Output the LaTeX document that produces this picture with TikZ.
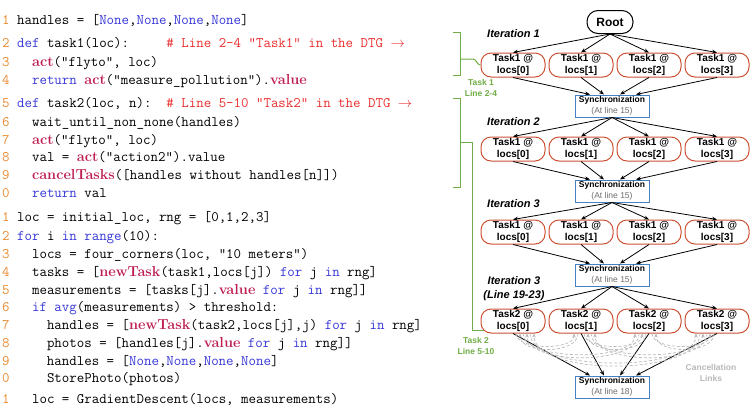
\documentclass[tikz,border=0pt]{standalone}
\usepackage{fontspec}
\setsansfont{Liberation Sans}
\usepackage{tikz}
\usetikzlibrary{arrows.meta}
\definecolor{lnorange}{RGB}{232,137,46}
\definecolor{kwblue}{RGB}{55,55,215}
\definecolor{fncrimson}{RGB}{190,30,80}
\definecolor{cmtred}{RGB}{235,45,45}
\definecolor{taskred}{RGB}{205,80,50}
\definecolor{syncblue}{RGB}{70,130,195}
\definecolor{syncgray}{RGB}{110,110,110}
\definecolor{brgreen}{RGB}{112,173,71}
\definecolor{cancelgray}{RGB}{185,185,185}
\newcommand{\ckw}[1]{\textcolor{kwblue}{#1}}
\newcommand{\cfn}[1]{\textcolor{fncrimson}{\rmfamily\bfseries #1}}
\newcommand{\ccm}[1]{\textcolor{cmtred}{#1}}
\newcommand{\codeline}[4]{%
  \node[codetext] (#1) at (2,#2) {\textcolor{lnorange}{#3}~#4};
}
\newcommand{\taskrow}[3]{%
  \foreach \k/\x in {0/513,1/581,2/649,3/717}{
    \node[task] (#1-\k) at (\x,#2) {#3 @\\locs[\k]};
  }
}
\newcommand{\syncnode}[3]{%
  \node[sync] (#1) at (612,#2) {Synchronization\\{\color{syncgray}\mdseries(At line #3)}};
}

\begin{document}
\begin{tikzpicture}[x=1pt,y=-1pt,
    codetext/.style={anchor=base west,inner sep=0pt,font=\ttfamily\fontsize{14.5}{18}\selectfont},
    rootnode/.style={draw,line width=1pt,rounded corners=11pt,minimum width=46pt,minimum height=23pt,
      inner sep=1pt,font=\sffamily\bfseries\fontsize{12}{14}\selectfont},
    task/.style={draw=taskred,line width=1pt,rounded corners=10pt,minimum width=64pt,minimum height=24pt,
      inner sep=1pt,align=center,font=\sffamily\bfseries\fontsize{10}{11.5}\selectfont},
    sync/.style={draw=syncblue,line width=1pt,minimum width=74pt,minimum height=22pt,
      inner sep=1pt,align=center,font=\sffamily\bfseries\fontsize{8.5}{10.5}\selectfont},
    iter/.style={inner sep=0pt,align=center,font=\sffamily\bfseries\itshape\fontsize{11}{14}\selectfont},
    grnlabel/.style={inner sep=0pt,align=center,text=brgreen,font=\sffamily\bfseries\fontsize{8.5}{11}\selectfont},
    greylabel/.style={inner sep=0pt,align=center,text=cancelgray,font=\sffamily\bfseries\fontsize{8.5}{11}\selectfont},
    flow/.style={line width=0.8pt,-{Stealth[length=5pt,width=4pt]}},
    cancel/.style={draw=cancelgray,line width=0.7pt,dash pattern=on 3pt off 2pt,-{Stealth[length=4pt,width=3.5pt]}},
    brace/.style={draw=brgreen,line width=1pt}]
  \useasboundingbox (0,0) rectangle (756,408);

  % program
  \codeline{c1}{24}{1}{handles = [\ckw{None},\ckw{None},\ckw{None},\ckw{None}]}
  \codeline{c2}{47}{2}{\ckw{def} task1(loc):~~~~~\ccm{\# Line 2-4 "Task1" in the DTG $\rightarrow$}}
  \codeline{c3}{66}{3}{~~\cfn{act}("flyto", loc)}
  \codeline{c4}{84}{4}{~~\ckw{return} \cfn{act}("measure\_pollution").\cfn{value}}
  \codeline{c5}{107}{5}{\ckw{def} task2(loc, n):~~\ccm{\# Line 5-10 "Task2" in the DTG $\rightarrow$}}
  \codeline{c6}{126}{6}{~~wait\_until\_non\_none(handles)}
  \codeline{c7}{144}{7}{~~\cfn{act}("flyto", loc)}
  \codeline{c8}{161}{8}{~~val = \cfn{act}("action2").value}
  \codeline{c9}{179}{9}{~~\cfn{cancelTasks}([handles without handles[n]])}
  \codeline{c10}{197}{0}{~~\ckw{return} val}
  \codeline{c11}{221}{1}{loc = initial\_loc, rng = [0,1,2,3]}
  \codeline{c12}{240}{2}{\ckw{for} i \ckw{in} \ckw{range}(10):}
  \codeline{c13}{258}{3}{~~locs = four\_corners(loc, "10 meters")}
  \codeline{c14}{276}{4}{~~tasks = [\cfn{newTask}(task1,locs[j]) \ckw{for} j \ckw{in} rng]}
  \codeline{c15}{294}{5}{~~measurements = [tasks[j].\cfn{value} \ckw{for} j \ckw{in} rng]]}
  \codeline{c16}{311}{6}{~~\ckw{if} \ckw{avg}(measurements) > threshold:}
  \codeline{c17}{329}{7}{~~~~handles = [\cfn{newTask}(task2,locs[j],j) \ckw{for} j \ckw{in} rng]}
  \codeline{c18}{347}{8}{~~~~photos = [handles[j].\cfn{value} \ckw{for} j \ckw{in} rng]]}
  \codeline{c19}{365}{9}{~~~~handles = [\ckw{None},\ckw{None},\ckw{None},\ckw{None}]}
  \codeline{c20}{382}{0}{~~~~StorePhoto(photos)}
  \codeline{c21}{403}{1}{~~loc = GradientDescent(locs, measurements)}

  % DTG
  \node[rootnode] (root) at (610,22) {Root};
  \taskrow{t1}{65}{Task1}
  \syncnode{s1}{106}{15}
  \taskrow{t2}{149}{Task1}
  \syncnode{s2}{191}{15}
  \taskrow{t3}{232}{Task1}
  \syncnode{s3}{275}{15}
  \taskrow{t4}{321}{Task2}
  \syncnode{s4}{387}{18}

  \node[iter,anchor=west] (it1) at (487,34) {Iteration 1};
  \node[iter,anchor=west] (it2) at (487,122) {Iteration 2};
  \node[iter,anchor=west] (it3) at (487,204) {Iteration 3};
  \node[iter] (it4) at (514,289) {Iteration 3\\(Line 19-23)};
  \node[grnlabel] (lab1) at (481,88) {Task 1\\Line 2-4};
  \node[grnlabel] (lab2) at (476,346) {Task 2\\Line 5-10};
  \node[greylabel] (lab3) at (711,373) {Cancellation\\Links};

  \foreach \k in {0,...,3}{
    \draw[flow] (root.south) -- (t1-\k.north);
  }
  \foreach \r/\s in {t1/s1,t2/s2,t3/s3,t4/s4}{
    \foreach \k/\dx in {0/-22,1/-8,2/8,3/24}{
      \draw[flow] (\r-\k.south) -- ([xshift=\dx pt]\s.north);
    }
  }
  \foreach \s/\r in {s1/t2,s2/t3,s3/t4}{
    \foreach \k in {0,...,3}{
      \draw[flow] (\s.south) -- (\r-\k.north);
    }
  }

  % cancellation links
  \foreach \i in {0,...,3}{
    \foreach \j in {0,...,3}{
      \pgfmathtruncatemacro{\d}{abs(\j-\i)}
      \pgfmathtruncatemacro{\a}{3+7*(\d-1)}
      \pgfmathtruncatemacro{\b}{7+7*(\d-1)}
      \pgfmathtruncatemacro{\h}{6+11*\d}
      \ifnum\i<\j
        \draw[cancel] ([xshift=\a pt]t4-\i.south) .. controls +(0,\h) and +(0,\h) .. ([xshift=-\b pt]t4-\j.south);
      \fi
      \ifnum\i>\j
        \draw[cancel] ([xshift=-\a pt]t4-\i.south) .. controls +(0,\h+4) and +(0,\h+4) .. ([xshift=\b pt]t4-\j.south);
      \fi
    }
  }

  % brackets
  \coordinate (br1) at (460,59);
  \coordinate (br2) at (460,142);
  \draw[brace] (453,32) -| (460,75) -- (453,75);
  \draw[brace] (br1) -- ++(13,0) to[out=0,in=180] (t1-0.west);
  \draw[brace] (453,98) -| (460,187) -- (453,187);
  \draw[brace] (br2) -- ++(12,0) |- ([xshift=3pt,yshift=-9pt]t4-0.west);
\end{tikzpicture}
\end{document}
